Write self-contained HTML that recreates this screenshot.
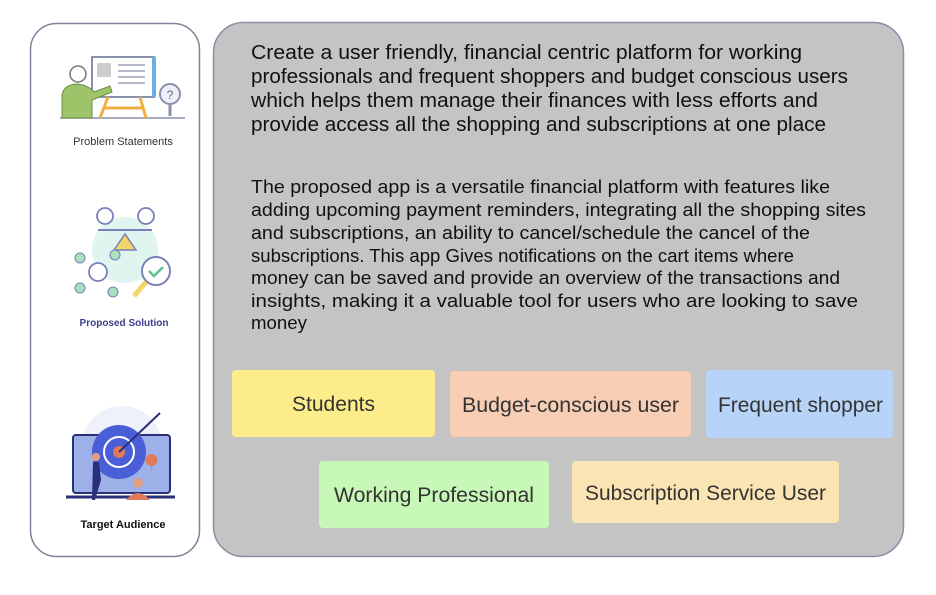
<!DOCTYPE html>
<html><head><style>
body{margin:0;width:936px;height:590px;background:#fff;overflow:hidden;font-family:"Liberation Sans",sans-serif}
</style></head><body>
<svg width="936" height="590" xmlns="http://www.w3.org/2000/svg" font-family="Liberation Sans, sans-serif">
<rect x="30.5" y="23.5" width="169" height="533" rx="26" fill="#fff" stroke="#7d8398" stroke-width="1.5"/>
<rect x="213.5" y="22.5" width="690" height="534" rx="30" fill="#c4c4c4" stroke="#8a8fa8" stroke-width="1.5"/>
<!-- icon 1 -->
<g>
<line x1="60" y1="118" x2="185" y2="118" stroke="#8a90a8" stroke-width="1.5"/>
<rect x="92" y="57" width="62" height="40" fill="#fff" stroke="#8a90a8" stroke-width="2"/>
<rect x="152" y="57" width="4" height="40" fill="#6aaee8"/>
<rect x="97" y="63" width="14" height="14" fill="#ccc"/>
<g stroke="#8a90a8" stroke-width="1.3"><line x1="118" y1="65" x2="145" y2="65"/><line x1="118" y1="71" x2="145" y2="71"/><line x1="118" y1="77" x2="145" y2="77"/><line x1="118" y1="83" x2="145" y2="83"/></g>
<path d="M108 97 L100 118 M140 97 L146 118 M104 108 H143" stroke="#f0b040" stroke-width="3" fill="none"/>
<circle cx="78" cy="74" r="8" fill="#fff" stroke="#777" stroke-width="1.5"/>
<path d="M62 118 V95 Q64 84 78 84 Q90 86 94 92 L110 86 L112 92 L92 100 V118 Z" fill="#9ec46a" stroke="#6b8a45" stroke-width="1"/>
<circle cx="170" cy="94" r="10" fill="#eef" stroke="#8a90a8" stroke-width="2"/>
<text x="170" y="99" font-size="12" text-anchor="middle" fill="#666">?</text>
<line x1="170" y1="104" x2="170" y2="116" stroke="#8a90a8" stroke-width="3"/>
</g>
<text x="123" y="145" font-size="11" text-anchor="middle" fill="#333">Problem Statements</text>
<!-- icon 2 -->
<g>
<circle cx="125" cy="250" r="33" fill="#e0f4f0"/>
<circle cx="105" cy="216" r="8" fill="#fff" stroke="#7a80b8" stroke-width="1.8"/>
<circle cx="146" cy="216" r="8" fill="#fff" stroke="#7a80b8" stroke-width="1.8"/>
<line x1="98" y1="230" x2="152" y2="230" stroke="#7a80b8" stroke-width="2"/>
<path d="M114 250 L125 234 L136 250 Z" fill="#f2d66a" stroke="#7a80b8" stroke-width="1.5"/>
<circle cx="98" cy="272" r="9" fill="#fff" stroke="#7a80b8" stroke-width="1.8"/>
<circle cx="80" cy="258" r="5" fill="#a8e0c0" stroke="#7a80b8"/><circle cx="80" cy="288" r="5" fill="#a8e0c0" stroke="#7a80b8"/><circle cx="113" cy="292" r="5" fill="#a8e0c0" stroke="#7a80b8"/><circle cx="115" cy="255" r="5" fill="#a8e0c0" stroke="#7a80b8"/>
<circle cx="156" cy="271" r="14" fill="#fff" stroke="#7a80b8" stroke-width="2"/>
<path d="M149 271 l5 5 l9 -9" stroke="#5ac08a" stroke-width="2.5" fill="none"/>
<line x1="146" y1="282" x2="134" y2="296" stroke="#f2d66a" stroke-width="5"/>
</g>
<text x="124" y="326" font-size="10" font-weight="bold" text-anchor="middle" fill="#3a3f8a">Proposed Solution</text>
<!-- icon 3 -->
<g>
<circle cx="122" cy="446" r="40" fill="#eef0fa"/>
<rect x="73" y="435" width="97" height="58" rx="3" fill="#9eb0e8" stroke="#2a2f7a" stroke-width="2"/>
<line x1="66" y1="497" x2="175" y2="497" stroke="#2a2f7a" stroke-width="3"/>
<circle cx="119" cy="452" r="27" fill="#4a5ed8"/>
<circle cx="119" cy="452" r="15" fill="none" stroke="#fff" stroke-width="2"/>
<circle cx="119" cy="452" r="6" fill="#e07a5a"/>
<line x1="119" y1="452" x2="160" y2="413" stroke="#2a2f7a" stroke-width="2"/>
<path d="M151 466 a6 6 0 1 1 1 0 l-1 8z" fill="#e07a5a"/>
<path d="M93 462 l6 0 l2 18 l-6 20 l-3 0 Z" fill="#2a2f7a"/>
<circle cx="96" cy="457" r="4" fill="#e0a080"/>
<circle cx="138" cy="483" r="5" fill="#e0a080"/>
<path d="M126 500 q12 -14 24 0 Z" fill="#e07a5a"/>
</g>
<text x="123" y="528" font-size="11" font-weight="bold" text-anchor="middle" fill="#111">Target Audience</text>
<!-- text -->
<g font-size="20" fill="#111">
<text x="251" y="59" textLength="551" lengthAdjust="spacingAndGlyphs">Create a user friendly, financial centric platform for working</text>
<text x="251" y="83" textLength="597" lengthAdjust="spacingAndGlyphs">professionals and frequent shoppers and budget conscious users</text>
<text x="251" y="107" textLength="567" lengthAdjust="spacingAndGlyphs">which helps them manage their finances with less efforts and</text>
<text x="251" y="131" textLength="575" lengthAdjust="spacingAndGlyphs">provide access all the shopping and subscriptions at one place</text>
</g>
<g font-size="18" fill="#111">
<text x="251" y="193" textLength="579" lengthAdjust="spacingAndGlyphs">The proposed app is a versatile financial platform with features like</text>
<text x="251" y="216" textLength="615" lengthAdjust="spacingAndGlyphs">adding upcoming payment reminders, integrating all the shopping sites</text>
<text x="251" y="239" textLength="559" lengthAdjust="spacingAndGlyphs">and subscriptions, an ability to cancel/schedule the cancel of the</text>
<text x="251" y="262" textLength="543" lengthAdjust="spacingAndGlyphs">subscriptions. This app Gives notifications on the cart items where</text>
<text x="251" y="284" textLength="589" lengthAdjust="spacingAndGlyphs">money can be saved and provide an overview of the transactions and</text>
<text x="251" y="307" textLength="607" lengthAdjust="spacingAndGlyphs">insights, making it a valuable tool for users who are looking to save</text>
<text x="251" y="329" textLength="56" lengthAdjust="spacingAndGlyphs">money</text>
</g>
<!-- boxes -->
<rect x="232" y="370" width="203" height="67" rx="4" fill="#fdec8a"/>
<rect x="450" y="371" width="241" height="66" rx="4" fill="#f7cdb4"/>
<rect x="706" y="370" width="187" height="68" rx="4" fill="#b7d4f8"/>
<rect x="319" y="461" width="230" height="67" rx="4" fill="#c8f8b8"/>
<rect x="572" y="461" width="267" height="62" rx="4" fill="#fbe4b4"/>
<g font-size="21" fill="#333">
<text x="292" y="411" textLength="83" lengthAdjust="spacingAndGlyphs">Students</text>
<text x="462" y="412" textLength="217" lengthAdjust="spacingAndGlyphs">Budget-conscious user</text>
<text x="718" y="412" textLength="165" lengthAdjust="spacingAndGlyphs">Frequent shopper</text>
<text x="334" y="502" textLength="200" lengthAdjust="spacingAndGlyphs">Working Professional</text>
<text x="585" y="500" textLength="241" lengthAdjust="spacingAndGlyphs">Subscription Service User</text>
</g>
</svg>
</body></html>
